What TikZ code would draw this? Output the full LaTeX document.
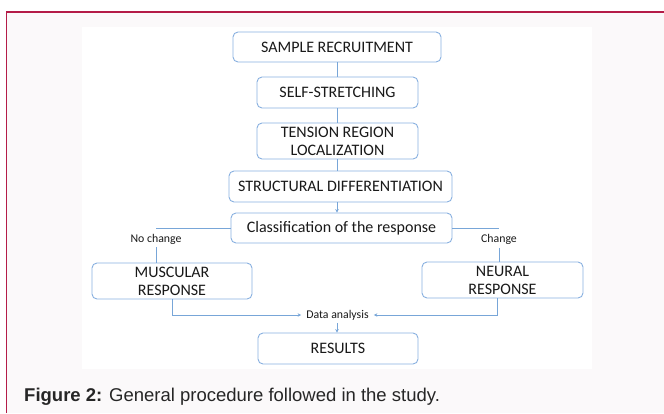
\documentclass[tikz,border=0pt]{standalone}
\usepackage{fontspec}
\setmainfont{Carlito}
\newfontfamily\capfont{Liberation Sans}
\usetikzlibrary{arrows.meta}
\definecolor{frameRed}{RGB}{180,28,72}
\definecolor{panelBg}{RGB}{251,249,250}
\definecolor{boxLine}{RGB}{136,176,224}
\definecolor{connLine}{RGB}{120,166,216}
\definecolor{txt}{RGB}{25,25,25}
\definecolor{capTxt}{RGB}{38,38,38}
\tikzset{
  stepbox/.style={draw=boxLine, line width=0.9pt, rounded corners=5pt, fill=white,
    inner sep=0pt, align=center, text=txt,
    font=\fontsize{16}{18}\selectfont},
  smalltxt/.style={inner sep=0pt, text=txt, font=\fontsize{11.8}{14}\selectfont},
  conn/.style={draw=connLine, line width=0.9pt},
  connarrow/.style={conn, -{Stealth[length=3.5pt,width=3.5pt]}}
}
\begin{document}
\begin{tikzpicture}[x=1pt,y=-1pt]
\useasboundingbox (0,0) rectangle (664,413);
\fill[white] (0,0) rectangle (664,413);
\fill[panelBg] (6,11) rectangle (664,413);
\draw[frameRed, line width=1.6pt] (6.5,413) -- (6.5,11.8) -- (664,11.8);
\fill[white] (82,27) rectangle (592,369);

\node[stepbox, minimum width=208pt, minimum height=30pt] (sample) at (337,47) {SAMPLE RECRUITMENT};
\node[stepbox, minimum width=161pt, minimum height=31pt] (self) at (337.5,92.5) {SELF-STRETCHING};
\node[stepbox, minimum width=161pt, minimum height=36pt] (tension) at (337.5,141) {TENSION REGION\\LOCALIZATION};
\node[stepbox, minimum width=223pt, minimum height=31pt] (struct) at (340.5,186.5) {STRUCTURAL DIFFERENTIATION};
\node[stepbox, minimum width=221pt, minimum height=30pt] (classif) at (341.5,228) {Classification of the response};
\node[stepbox, minimum width=160pt, minimum height=36pt] (muscular) at (172,281) {MUSCULAR\\RESPONSE};
\node[stepbox, minimum width=161pt, minimum height=36pt] (neural) at (502.5,280) {NEURAL\\RESPONSE};
\node[smalltxt, inner xsep=5pt, inner ysep=3pt] (data) at (337.5,315) {Data analysis};
\node[stepbox, minimum width=160pt, minimum height=31pt] (results) at (338,348.5) {RESULTS};

\node[smalltxt, inner ysep=3pt] (nochange) at (156,239) {No change};
\node[smalltxt, inner ysep=3pt] (change) at (499,239.5) {Change};

\coordinate (colA) at (337,0);
\coordinate (mTurn) at (172,315);
\coordinate (nBot) at (497,298);
\coordinate (nTurn) at (497,315);

\draw[conn] (sample.south -| colA) -- (self.north -| colA);
\draw[conn] (self.south -| colA) -- (tension.north -| colA);
\draw[conn] (tension.south -| colA) -- (struct.north -| colA);
\draw[connarrow] (struct.south -| colA) -- (classif.north -| colA);

\draw[conn] (classif.west) -- (classif.west -| nochange);
\draw[conn] (nochange.south) -- (muscular.north -| nochange);
\draw[conn] (classif.east) -- (classif.east -| change);
\draw[conn] (change.south) -- (neural.north -| change);

\draw[connarrow] (muscular.south) -- (mTurn) -- (data.west);
\draw[connarrow] (nBot) -- (nTurn) -- (data.east);
\draw[connarrow] (data.south -| colA) -- (results.north -| colA);

\node[anchor=base west, inner sep=0pt, text=capTxt, font=\capfont\fontsize{18.5}{22}\selectfont] (caption) at (24,401) {\textbf{Figure 2:} General procedure followed in the study.};
\end{tikzpicture}
\end{document}
